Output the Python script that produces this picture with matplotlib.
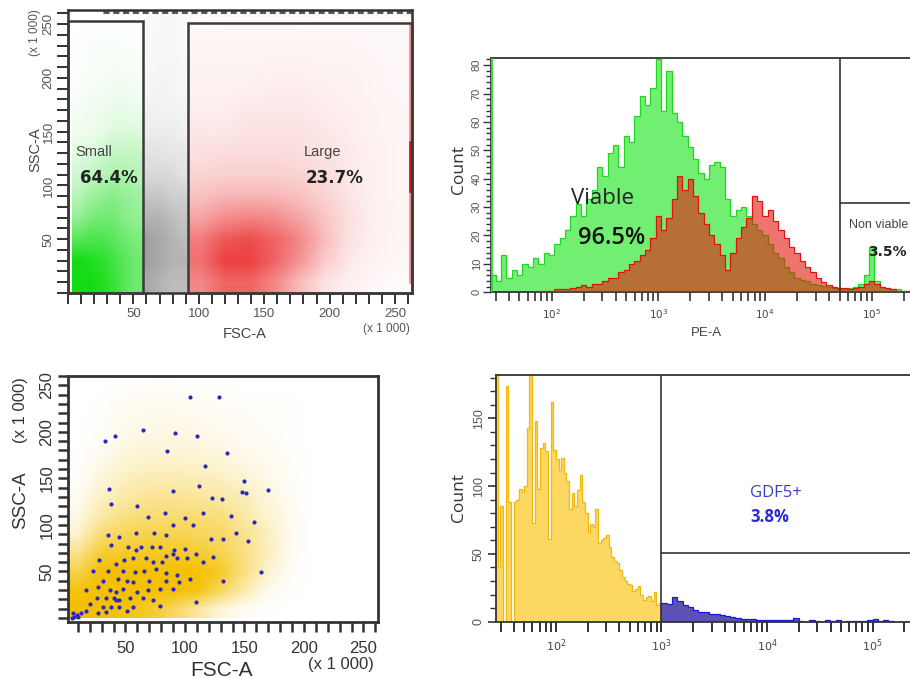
import numpy as np
import matplotlib
matplotlib.use('Agg')
import matplotlib.pyplot as plt
from matplotlib.patches import Rectangle
from matplotlib.ticker import MultipleLocator, FixedLocator, LogLocator, NullFormatter
from matplotlib.colors import to_rgb

# ---------------------------------------------------------------- data
# Panel A: FSC-A vs SSC-A (x 1000) scatter densities (fraction of area covered by dots)
ssc_rows = [0, 20, 40, 60, 80, 100, 120, 140, 160, 180, 200, 220, 240, 260]
green_fsc = [3, 57]          # Small gate cloud span
green_density = [
    [1.00, 1.00, 0.95, 0.85, 0.70, 0.60],
    [1.00, 0.95, 0.90, 0.80, 0.70, 0.60],
    [0.70, 0.75, 0.75, 0.70, 0.60, 0.55],
    [0.45, 0.55, 0.60, 0.60, 0.50, 0.45],
    [0.30, 0.40, 0.45, 0.50, 0.45, 0.40],
    [0.20, 0.25, 0.30, 0.35, 0.35, 0.30],
    [0.12, 0.15, 0.20, 0.25, 0.25, 0.25],
    [0.06, 0.08, 0.10, 0.15, 0.15, 0.15],
    [0.04, 0.06, 0.07, 0.10, 0.10, 0.08],
    [0.02, 0.04, 0.05, 0.06, 0.06, 0.05],
    [0.01, 0.02, 0.03, 0.04, 0.03, 0.03],
    [0.01, 0.02, 0.02, 0.02, 0.02, 0.01],
    [0.00, 0.01, 0.01, 0.01, 0.01, 0.00],
]
black_fsc = [57, 91.5]
black_density = [
    [0.36, 0.32, 0.28, 0.28],
    [0.40, 0.36, 0.32, 0.32],
    [0.40, 0.36, 0.32, 0.28],
    [0.32, 0.32, 0.28, 0.24],
    [0.24, 0.24, 0.20, 0.20],
    [0.16, 0.16, 0.16, 0.12],
    [0.12, 0.12, 0.10, 0.10],
    [0.08, 0.08, 0.08, 0.06],
    [0.06, 0.06, 0.05, 0.05],
    [0.04, 0.05, 0.04, 0.03],
    [0.03, 0.04, 0.04, 0.03],
    [0.03, 0.03, 0.03, 0.02],
    [0.02, 0.03, 0.03, 0.02],
]
red_fsc = [91.5, 262]
red_density = [
    [0.50, 0.65, 0.65, 0.50, 0.28, 0.12, 0.06, 0.03, 0.02],
    [0.60, 0.80, 0.80, 0.65, 0.45, 0.22, 0.10, 0.05, 0.03],
    [0.55, 0.70, 0.75, 0.65, 0.50, 0.28, 0.12, 0.06, 0.04],
    [0.38, 0.48, 0.52, 0.48, 0.38, 0.24, 0.13, 0.07, 0.04],
    [0.26, 0.31, 0.31, 0.31, 0.26, 0.19, 0.11, 0.06, 0.04],
    [0.18, 0.20, 0.20, 0.20, 0.18, 0.15, 0.10, 0.06, 0.04],
    [0.13, 0.15, 0.15, 0.15, 0.14, 0.12, 0.09, 0.06, 0.04],
    [0.10, 0.10, 0.12, 0.12, 0.12, 0.10, 0.08, 0.05, 0.04],
    [0.08, 0.08, 0.10, 0.10, 0.10, 0.08, 0.07, 0.05, 0.04],
    [0.06, 0.06, 0.07, 0.08, 0.08, 0.07, 0.06, 0.04, 0.03],
    [0.05, 0.05, 0.05, 0.06, 0.06, 0.05, 0.05, 0.04, 0.03],
    [0.04, 0.04, 0.04, 0.04, 0.04, 0.04, 0.04, 0.03, 0.03],
    [0.02, 0.03, 0.03, 0.03, 0.03, 0.02, 0.02, 0.02, 0.02],
]
sat_row_fsc = [27, 262]      # events saturated on SSC (top edge)
sat_row_ssc = 260.8
sat_col_fsc = 261.8          # events saturated on FSC (right edge)
sat_col_ssc = [10, 250]
sat_col_dense_ssc = [95, 140]
small_gate = [0, 57, 0, 252.5]
large_gate = [91.5, 263, 0, 250.5]
small_label, small_pct = "Small", "64.4%"
large_label, large_pct = "Large", "23.7%"

# Panel B: PE-A viability histogram (log10 bin centres, step 0.05)
pe_log_centres = [round(1.45 + 0.05 * i, 3) for i in range(80)]
green_counts = [6, 4, 13, 5, 8, 6, 10, 9, 12, 10,
                14, 13, 17, 19, 22, 27, 31, 27, 33, 36,
                44, 41, 49, 52, 44, 55, 53, 62, 69, 66,
                72, 82, 64, 78, 63, 60, 55, 51, 47, 42,
                40, 45, 46, 44, 33, 27, 29, 30, 27, 24,
                22, 20, 17, 14, 12, 9, 7, 5, 4.5, 4,
                3, 2.5, 2.2, 2, 1.5, 1.2, 1, 1.5, 2, 3,
                6, 16, 4, 2, 1.5, 1, 1, 0.5, 0.5, 0.3]
red_counts = [0, 0, 0, 0, 0, 0, 0, 0, 0, 0.5,
              0.5, 0.5, 1, 1, 1, 1.5, 2, 2.5, 2, 3,
              3, 4, 5, 5, 7, 8, 10, 11, 13, 15,
              19, 27, 22, 26, 33, 41, 36, 40, 34, 28,
              24, 20, 17, 13, 8, 14, 19, 23, 26, 34,
              32, 27, 29, 25, 22, 19, 16, 14, 11, 9,
              7, 5, 3.5, 2.5, 2, 1.5, 1.5, 1, 1.5, 2,
              3, 4, 3, 2, 1.5, 1, 0.5, 0.5, 0.3, 0.3]
green_offscale = 90
viable_gate_pe = 50000
nonviable_top = 31.3

# Panel C: FSC-A vs SSC-A, all events (gold) and GDF5+ events (blue)
gold_fsc_cols = [0, 260]
gold_density = [
    [1.00, 1.00, 0.95, 0.85, 0.65, 0.40, 0.15, 0.05, 0.01, 0, 0, 0, 0],
    [0.95, 1.00, 1.00, 1.00, 1.00, 0.95, 0.65, 0.32, 0.07, 0.01, 0, 0, 0],
    [0.70, 1.00, 1.00, 1.00, 1.00, 1.00, 0.85, 0.50, 0.18, 0.03, 0, 0, 0],
    [0.45, 0.80, 0.85, 0.85, 0.85, 0.80, 0.70, 0.50, 0.25, 0.05, 0, 0, 0],
    [0.20, 0.55, 0.65, 0.70, 0.70, 0.65, 0.60, 0.45, 0.25, 0.06, 0, 0, 0],
    [0.10, 0.35, 0.50, 0.55, 0.55, 0.55, 0.50, 0.35, 0.18, 0.05, 0, 0, 0],
    [0.05, 0.22, 0.35, 0.42, 0.42, 0.40, 0.35, 0.28, 0.14, 0.04, 0, 0, 0],
    [0.02, 0.14, 0.25, 0.30, 0.30, 0.28, 0.25, 0.18, 0.09, 0.03, 0, 0, 0],
    [0.01, 0.08, 0.16, 0.20, 0.20, 0.18, 0.15, 0.10, 0.06, 0.02, 0, 0, 0],
    [0.00, 0.04, 0.10, 0.13, 0.13, 0.12, 0.09, 0.06, 0.04, 0.01, 0, 0, 0],
    [0.00, 0.02, 0.07, 0.09, 0.09, 0.08, 0.06, 0.04, 0.03, 0.01, 0, 0, 0],
    [0.00, 0.01, 0.05, 0.06, 0.06, 0.05, 0.03, 0.03, 0.02, 0.01, 0, 0, 0],
    [0.00, 0.00, 0.01, 0.02, 0.02, 0.01, 0.01, 0.00, 0.00, 0.00, 0, 0, 0],
]
blue_fsc = [104, 129, 65, 92, 110, 33, 41, 85, 135, 117, 150, 148, 151, 170, 36,
            112, 90, 123, 131,
            38, 60, 69, 83, 90, 100, 115, 107, 139, 143, 158, 164, 153, 122, 132,
            35, 45, 59, 74, 84, 38, 52, 59, 63, 72, 79, 91, 90, 84, 100, 109,
            28, 42, 49, 56, 67, 73, 81, 93, 102, 115, 23, 35, 48, 58, 66, 76,
            84, 93, 31, 44, 51, 56, 70, 84, 95, 104, 132, 17, 27, 37, 42, 48,
            60, 69, 79, 90, 26, 34, 40, 42, 45, 54, 65, 73, 20, 31, 38, 45,
            56, 79, 17, 27, 34, 51, 109, 6, 9, 7, 10, 5, 13, 124]
blue_ssc = [237, 237, 202, 199, 195, 190, 195, 179, 177, 163, 147, 135, 134, 138, 139,
            142, 136, 129, 128,
            122, 120, 109, 113, 100, 107, 113, 100, 110, 91, 103, 49, 83, 85, 85,
            89, 87, 91, 91, 89, 78, 76, 73, 76, 76, 76, 73, 69, 67, 74, 69,
            62, 58, 62, 64, 64, 60, 60, 64, 64, 60, 51, 51, 51, 49, 51, 53,
            48, 46, 40, 42, 40, 39, 40, 40, 39, 42, 40, 30, 33, 30, 28, 31,
            28, 30, 31, 31, 22, 21, 22, 19, 19, 22, 21, 19, 15, 12, 12, 12,
            12, 13, 8, 5, 6, 8, 17, 5, 3, 1, 1, 0.5, 5, 65]

# Panel D: GDF5 histogram
yellow_log_centres = [round(1.4375 + 0.025 * i, 4) for i in range(63)]
yellow_counts = [182, 40, 85, 0, 174, 88, 0, 88, 90, 98,
                 96, 100, 143, 183, 73, 148, 98, 128, 132, 126,
                 61, 162, 127, 120, 112, 121, 110, 104, 83, 95,
                 85, 97, 108, 88, 80, 66, 72, 70, 83, 58,
                 60, 62, 64, 55, 48, 45, 43, 38, 33, 30,
                 28, 27, 23, 24, 26, 20, 16, 18, 19, 15,
                 22, 12, 14]
blue_log_centres = [round(3.025 + 0.05 * i, 3) for i in range(48)]
blue_counts = [14, 13, 18, 15, 12, 11, 9, 7.5, 7, 6,
               5.5, 5, 4, 3.2, 2.5, 2, 2, 1.7, 1.5, 1.3,
               1.2, 1.2, 1.0, 1.2, 1.0, 2.5, 0.8, 0, 1, 0.8,
               0, 1, 0.8, 1, 0, 0.5, 0.7, 0.6, 0.8, 1.0,
               2, 0.8, 1, 0.5, 0, 0, 0, 0]
gdf5_gate_x = 1000
gdf5_gate_top = 51

# ---------------------------------------------------------------- helpers
W, H = 910, 678
NARROW = ['Liberation Sans Narrow', 'Liberation Sans', 'DejaVu Sans']
ARIAL = ['Liberation Sans', 'DejaVu Sans']
OPEN = ['Open Sans', 'DejaVu Sans']

fig = plt.figure(figsize=(W / 100, H / 100), dpi=100)


def ax_px(left, top, right, bottom):
    return fig.add_axes([left / W, 1 - bottom / H, (right - left) / W, (bottom - top) / H])


def ftext(px, py, s, **kw):
    fig.text(px / W, 1 - py / H, s, **kw)


def density_image(ax, grid, xspan, color):
    g = np.array(grid, dtype=float)
    img = np.zeros(g.shape + (4,))
    img[..., :3] = to_rgb(color)
    img[..., 3] = np.clip(g, 0, 1)
    ax.imshow(img, extent=[xspan[0], xspan[1], ssc_rows[0], ssc_rows[-1]],
              origin='lower', aspect='auto', interpolation='bilinear', zorder=1)


def style_spines(ax, lw, color):
    for s in ax.spines.values():
        s.set_linewidth(lw)
        s.set_color(color)


def edges_from(centres, step):
    c = np.array(centres)
    return np.power(10.0, np.append(c - step / 2, c[-1] + step / 2))


# ---------------------------------------------------------------- Panel A
ax1 = ax_px(68, 10, 412, 293)
density_image(ax1, green_density, green_fsc, '#12dc12')
density_image(ax1, black_density, black_fsc, '#111111')
density_image(ax1, red_density, red_fsc, '#e81010')
ax1.plot(sat_row_fsc, [sat_row_ssc] * 2, color='#222', lw=2.2, ls=(0, (2, 1.2)), alpha=0.75, zorder=2)
ax1.plot([sat_col_fsc] * 2, sat_col_ssc, color='#e01010', lw=2.0, alpha=0.45, zorder=2)
ax1.plot([sat_col_fsc] * 2, sat_col_dense_ssc, color='#c00000', lw=2.0, alpha=0.8, zorder=2)
for g in (small_gate, large_gate):
    ax1.add_patch(Rectangle((g[0], g[2]), g[1] - g[0], g[3] - g[2], fill=False,
                            ec='#3a3a3a', lw=1.8, zorder=3, clip_on=False))
ax1.set_xlim(0, 263)
ax1.set_ylim(0, 263)
ax1.xaxis.set_major_locator(FixedLocator([50, 100, 150, 200, 250]))
ax1.yaxis.set_major_locator(FixedLocator([50, 100, 150, 200, 250]))
ax1.xaxis.set_minor_locator(MultipleLocator(10))
ax1.yaxis.set_minor_locator(MultipleLocator(10))
ax1.tick_params(which='both', direction='out', length=8, width=1.4, color='#333',
                labelsize=9.5, labelcolor='#555')
ax1.tick_params(axis='x', pad=3)
ax1.tick_params(axis='y', pad=1.5, labelrotation=90)
for lab in ax1.get_xticklabels() + ax1.get_yticklabels():
    lab.set_family(NARROW)
for lab in ax1.get_yticklabels():
    lab.set_va('center')
style_spines(ax1, 1.8, '#333')
ax1.text(5.6, 131, small_label, fontsize=10.5, color='#444', family=ARIAL, va='center', ha='left')
ax1.text(9, 107, small_pct, fontsize=12, color='#222', weight='bold', family=['DejaVu Sans'],
         va='center', ha='left')
ax1.text(180, 131, large_label, fontsize=10.5, color='#444', family=ARIAL, va='center', ha='left')
ax1.text(182, 107, large_pct, fontsize=12, color='#222', weight='bold', family=['DejaVu Sans'],
         va='center', ha='left')
ftext(35, 150, 'SSC-A', rotation=90, fontsize=10.5, color='#444', family=ARIAL, ha='center', va='center')
ftext(35, 33, '(x 1 000)', rotation=90, fontsize=8.5, color='#555', family=NARROW, ha='center', va='center')
ftext(245, 334, 'FSC-A', fontsize=10.5, color='#444', family=ARIAL, ha='center', va='center')
ftext(386, 329, '(x 1 000)', fontsize=8.5, color='#555', family=NARROW, ha='center', va='center')

# ---------------------------------------------------------------- Panel B
ax2 = ax_px(490.7, 58, 916.3, 292.3)
ax2.set_xscale('log')
e_pe = edges_from(pe_log_centres, 0.05)
ax2.stairs(green_counts, e_pe, fill=True, color='#72ee72', lw=0, zorder=1)
ax2.stairs(green_counts, e_pe, color='#1fd81f', lw=0.9, zorder=2)
ax2.stairs(red_counts, e_pe, fill=True, color='#e41a0c', alpha=0.6, lw=0, zorder=3)
ax2.stairs(red_counts, e_pe, color='#e31212', lw=0.9, zorder=4)
ax2.plot([10 ** 1.432] * 2, [0, green_offscale], color='#2ad82a', lw=2, zorder=4)
ax2.plot([viable_gate_pe] * 2, [0, 82.5], color='#333', lw=1.2, zorder=5)
ax2.plot([viable_gate_pe, 262144], [nonviable_top] * 2, color='#333', lw=1.2, zorder=5)
ax2.set_xlim(10 ** 1.43, 262144)
ax2.set_ylim(0, 82.5)
ax2.xaxis.set_major_locator(LogLocator(base=10, numticks=10))
ax2.xaxis.set_minor_locator(LogLocator(base=10, subs=np.arange(2, 10), numticks=20))
ax2.xaxis.set_minor_formatter(NullFormatter())
ax2.yaxis.set_major_locator(MultipleLocator(10))
ax2.yaxis.set_minor_locator(MultipleLocator(2))
ax2.tick_params(axis='x', which='both', direction='out', length=6.5, width=1.2, color='#333',
                labelsize=7.5, labelcolor='#444', pad=4)
ax2.tick_params(axis='y', which='major', direction='out', length=5.5, width=1.0, color='#333',
                labelsize=8, labelcolor='#555', pad=1, labelrotation=90)
ax2.tick_params(axis='y', which='minor', direction='out', length=3.5, width=1.0, color='#333')
for lab in ax2.get_yticklabels():
    lab.set_va('center')
    lab.set_family(NARROW)
style_spines(ax2, 1.3, '#333')
ax2.text(10 ** 2.48, 33, 'Viable', fontsize=16, color='#222', family=OPEN, ha='center', va='center')
ax2.text(10 ** 2.56, 19, '96.5%', fontsize=17, color='#111', family=OPEN, weight='semibold',
         ha='center', va='center')
ax2.text(10 ** 4.785, 23.7, 'Non viable', fontsize=9, color='#444', family=NARROW, ha='left', va='center')
ftext(907, 252, '3.5%', fontsize=10, color='#222', family=['DejaVu Sans'], weight='bold',
      ha='right', va='center')
ftext(459, 170, 'Count', rotation=90, fontsize=12.5, color='#333', family=OPEN, ha='center', va='center')
ftext(706, 333, 'PE-A', fontsize=9.5, color='#444', family=NARROW, ha='center', va='center')

# ---------------------------------------------------------------- Panel C
ax3 = ax_px(68.3, 376, 377.7, 621.7)
g = np.array(gold_density, dtype=float)
img = np.zeros(g.shape + (4,))
img[..., :3] = to_rgb('#f4c000')
img[..., 3] = np.clip(g, 0, 1)
ax3.imshow(img, extent=[gold_fsc_cols[0], gold_fsc_cols[1], ssc_rows[0], ssc_rows[-1]],
           origin='lower', aspect='auto', interpolation='bilinear', zorder=1)
ax3.scatter(blue_fsc, blue_ssc, s=9, marker='o', color='#2a2ab8', lw=0, zorder=2)
ax3.set_xlim(2, 262)
ax3.set_ylim(-4, 260)
ax3.xaxis.set_major_locator(FixedLocator([50, 100, 150, 200, 250]))
ax3.yaxis.set_major_locator(FixedLocator([50, 100, 150, 200, 250]))
ax3.xaxis.set_minor_locator(MultipleLocator(10))
ax3.yaxis.set_minor_locator(MultipleLocator(10))
ax3.tick_params(which='both', direction='out', length=7, width=1.8, color='#333',
                labelsize=12, labelcolor='#333')
ax3.tick_params(axis='x', pad=7)
ax3.tick_params(axis='y', pad=3, labelrotation=90)
for lab in ax3.get_xticklabels() + ax3.get_yticklabels():
    lab.set_family(NARROW)
for lab in ax3.get_yticklabels():
    lab.set_va('center')
style_spines(ax3, 2.0, '#333')
ftext(21, 500, 'SSC-A', rotation=90, fontsize=13.5, color='#333', family=ARIAL, ha='center', va='center')
ftext(21, 410, '(x 1 000)', rotation=90, fontsize=12, color='#333', family=NARROW, ha='center', va='center')
ftext(222, 670, 'FSC-A', fontsize=15, color='#333', family=ARIAL, ha='center', va='center')
ftext(341, 665, '(x 1 000)', fontsize=12, color='#333', family=NARROW, ha='center', va='center')

# ---------------------------------------------------------------- Panel D
ax4 = ax_px(495.7, 375, 916.8, 621.7)
ax4.set_xscale('log')
e_y = edges_from(yellow_log_centres, 0.025)
e_b = edges_from(blue_log_centres, 0.05)
ax4.stairs(yellow_counts, e_y, fill=True, color='#fcd862', lw=0, zorder=1)
ax4.stairs(yellow_counts, e_y, color='#f2b80a', lw=0.9, zorder=2)
ax4.stairs(blue_counts, e_b, fill=True, color='#5c52b4', lw=0, zorder=1)
ax4.stairs(blue_counts, e_b, color='#1818e0', lw=0.9, zorder=2)
ax4.plot([gdf5_gate_x] * 2, [0, 182], color='#333', lw=1.2, zorder=5)
ax4.plot([gdf5_gate_x, 262144], [gdf5_gate_top] * 2, color='#333', lw=1.2, zorder=5)
ax4.set_xlim(10 ** 1.43, 262144)
ax4.set_ylim(0, 182)
ax4.xaxis.set_major_locator(LogLocator(base=10, numticks=10))
ax4.xaxis.set_minor_locator(LogLocator(base=10, subs=np.arange(2, 10), numticks=20))
ax4.xaxis.set_minor_formatter(NullFormatter())
ax4.yaxis.set_major_locator(MultipleLocator(50))
ax4.yaxis.set_minor_locator(MultipleLocator(10))
ax4.tick_params(axis='x', which='both', direction='out', length=7, width=1.4, color='#333',
                labelsize=8, labelcolor='#444', pad=4)
ax4.tick_params(axis='y', which='major', direction='out', length=6, width=1.2, color='#333',
                labelsize=9, labelcolor='#555', pad=2, labelrotation=90)
ax4.tick_params(axis='y', which='minor', direction='out', length=4.5, width=1.0, color='#333')
for lab in ax4.get_yticklabels():
    lab.set_va('center')
    lab.set_family(NARROW)
style_spines(ax4, 1.3, '#333')
ax4.text(10 ** 3.84, 95, 'GDF5+', fontsize=12, color='#3a3ad0', family=OPEN, ha='left', va='center')
ax4.text(10 ** 3.84, 77, '3.8%', fontsize=12, color='#2a2ad0', family=OPEN, weight='bold',
         ha='left', va='center')
ftext(459, 497, 'Count', rotation=90, fontsize=12.5, color='#333', family=OPEN, ha='center', va='center')

fig.savefig('out.png', dpi=100)
